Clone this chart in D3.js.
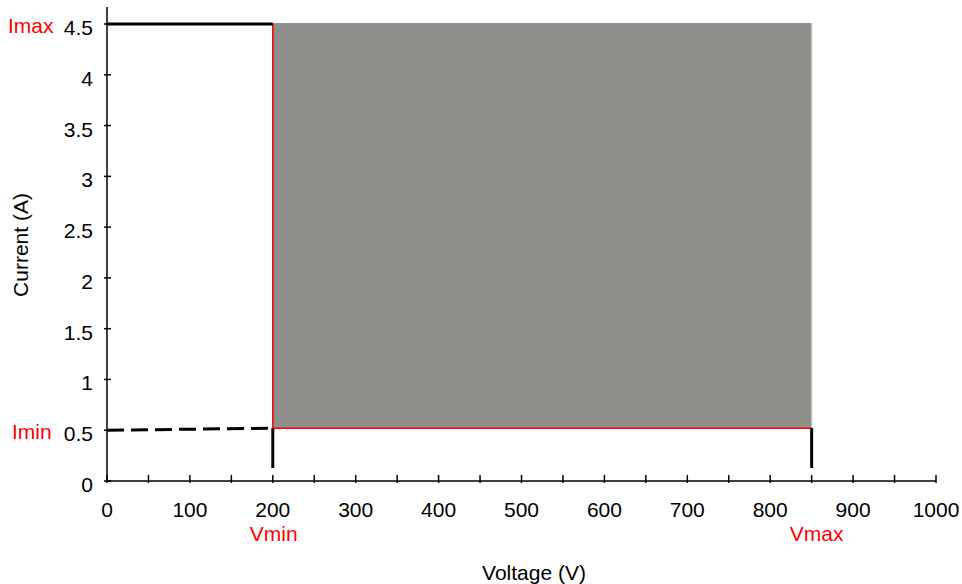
<!DOCTYPE html>
<html>
<head>
<meta charset="utf-8">
<script src="https://cdn.jsdelivr.net/npm/d3@7"></script>
<style>
  body { margin: 0; background: #fff; }
  svg { font-family: "Liberation Sans", Arial, sans-serif; }
</style>
</head>
<body>
<svg id="chart" width="962" height="584"></svg>
<script>
// operating window
var vRange = [200, 850];      // Vmin, Vmax
var iRange = [0.52, 4.5];     // Imin, Imax
var iMinLeft = 0.5;           // dashed line starts here on the y axis
var xTicks = [0, 100, 200, 300, 400, 500, 600, 700, 800, 900, 1000];
var xMinorTicks = [50, 150, 250, 350, 450, 550, 650, 750, 850, 950];
var yTicks = [0, 0.5, 1, 1.5, 2, 2.5, 3, 3.5, 4, 4.5];

var svg = d3.select("#chart");
var x = d3.scaleLinear().domain([0, 1000]).range([107, 936]);
var y = d3.scaleLinear().domain([0, 4.5]).range([481, 24]);
var fs = 21;

// shaded region
svg.append("rect")
  .attr("x", x(vRange[0]))
  .attr("y", y(iRange[1]) - 1)
  .attr("width", x(vRange[1]) - x(vRange[0]))
  .attr("height", y(iRange[0]) - y(iRange[1]) + 1)
  .attr("fill", "#8e8e8a");
svg.append("line")
  .attr("x1", x(vRange[1])).attr("x2", x(vRange[1]))
  .attr("y1", y(iRange[1]) - 1).attr("y2", y(iRange[0]))
  .attr("stroke", "#c8c8c4").attr("stroke-width", 1.5);

// red edges
svg.append("path")
  .attr("d", "M" + x(vRange[0]) + "," + y(iRange[1]) + "V" + y(iRange[0]) + "H" + x(vRange[1]))
  .attr("fill", "none").attr("stroke", "#ff0000").attr("stroke-width", 1.5);

// axes
var xAxis = svg.append("g").attr("transform", "translate(0," + y(0) + ")");
xAxis.append("line").attr("x1", x(0)).attr("x2", x(1000)).attr("stroke", "#000").attr("stroke-width", 1.5);
xAxis.selectAll(".tk").data(xTicks.concat(xMinorTicks)).enter().append("line")
  .attr("x1", function (d) { return x(d); }).attr("x2", function (d) { return x(d); })
  .attr("y1", -6).attr("y2", 2).attr("stroke", "#000").attr("stroke-width", 1.5);
xAxis.selectAll("text").data(xTicks).enter().append("text")
  .attr("x", function (d) { return x(d); }).attr("y", 36)
  .attr("text-anchor", "middle").attr("font-size", fs).text(function (d) { return d; });

var yAxis = svg.append("g");
yAxis.append("line").attr("x1", x(0)).attr("x2", x(0)).attr("y1", 7).attr("y2", y(0))
  .attr("stroke", "#000").attr("stroke-width", 1.5);
yAxis.selectAll(".tk").data(yTicks).enter().append("line")
  .attr("x1", x(0) - 3).attr("x2", x(0) + 4)
  .attr("y1", function (d) { return y(d); }).attr("y2", function (d) { return y(d); })
  .attr("stroke", "#000").attr("stroke-width", 1.5);
yAxis.selectAll("text").data(yTicks).enter().append("text")
  .attr("x", 93).attr("y", function (d) { return y(d) + 11; })
  .attr("text-anchor", "end").attr("font-size", fs).text(function (d) { return d; });

// limit lines
svg.append("line")
  .attr("x1", x(0)).attr("x2", x(vRange[0]))
  .attr("y1", y(iRange[1])).attr("y2", y(iRange[1]))
  .attr("stroke", "#000").attr("stroke-width", 3);
svg.append("line")
  .attr("x1", x(0)).attr("x2", x(vRange[0]))
  .attr("y1", y(iMinLeft)).attr("y2", y(iRange[0]))
  .attr("stroke", "#000").attr("stroke-width", 3)
  .attr("stroke-dasharray", "17,7");
vRange.forEach(function (v) {
  svg.append("line")
    .attr("x1", x(v)).attr("x2", x(v))
    .attr("y1", y(iRange[0])).attr("y2", y(0) - 13)
    .attr("stroke", "#000").attr("stroke-width", 3);
});

// red labels
svg.append("text").attr("x", 8).attr("y", 33).attr("fill", "#ff0000")
  .attr("font-size", fs).text("Imax");
svg.append("text").attr("x", 12).attr("y", 439).attr("fill", "#ff0000")
  .attr("font-size", fs).text("Imin");
svg.append("text").attr("x", x(vRange[0]) + 1).attr("y", 541).attr("fill", "#ff0000")
  .attr("text-anchor", "middle").attr("font-size", fs).text("Vmin");
svg.append("text").attr("x", x(vRange[1]) + 5).attr("y", 541).attr("fill", "#ff0000")
  .attr("text-anchor", "middle").attr("font-size", fs).text("Vmax");

// axis titles
svg.append("text").attr("x", 534).attr("y", 580).attr("text-anchor", "middle")
  .attr("font-size", fs).text("Voltage (V)");
svg.append("text").attr("transform", "translate(28,245) rotate(-90)")
  .attr("text-anchor", "middle").attr("font-size", fs).text("Current (A)");
</script>
</body>
</html>
